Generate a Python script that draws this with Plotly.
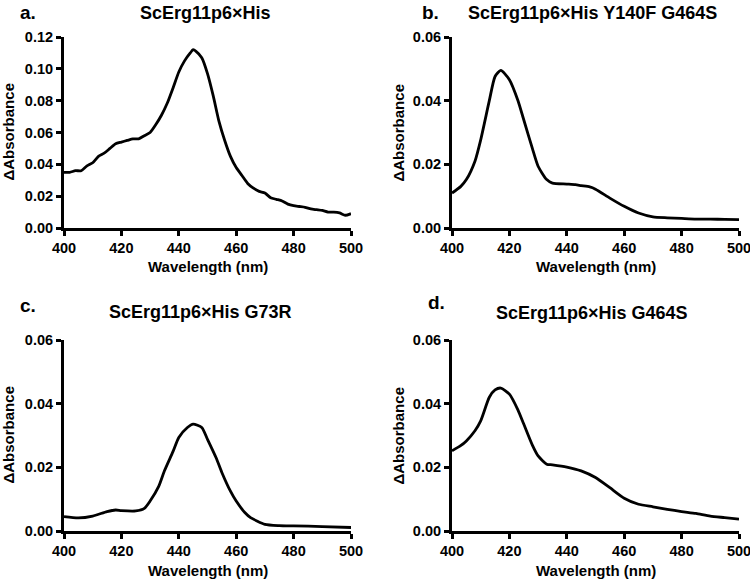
import plotly.graph_objects as go

# ---------------- data ----------------
wl_a = [400, 402, 404, 406, 408, 410, 412, 414, 416, 418, 420, 422, 424, 426, 428, 430, 432, 434, 436, 438,
        440, 442, 444, 445, 446, 448, 450, 452, 454, 456, 458, 460, 462, 464, 466, 468, 470, 472, 474, 476,
        478, 480, 482, 484, 486, 488, 490, 492, 494, 496, 498, 500]
abs_a = [0.035, 0.035, 0.036, 0.036, 0.039, 0.041, 0.045, 0.047, 0.050, 0.053, 0.054, 0.055, 0.056, 0.056, 0.058,
         0.060, 0.065, 0.071, 0.0785, 0.088, 0.098, 0.105, 0.110, 0.112, 0.111, 0.107, 0.097, 0.083, 0.067, 0.055,
         0.045, 0.038, 0.033, 0.028, 0.025, 0.023, 0.022, 0.019, 0.018, 0.017, 0.015, 0.014, 0.0135, 0.013, 0.012,
         0.0115, 0.011, 0.010, 0.010, 0.0095, 0.008, 0.009]

wl_b = [400, 403, 405, 408, 410, 413, 415, 417, 420, 423, 425, 428, 430, 433, 435, 440, 443, 445, 448, 450,
        455, 460, 465, 470, 475, 480, 485, 490, 495, 500]
abs_b = [0.011, 0.013, 0.0152, 0.021, 0.0277, 0.040, 0.0476, 0.0495, 0.0466, 0.040, 0.034, 0.025, 0.0194, 0.0152,
         0.0141, 0.0138, 0.0136, 0.0133, 0.0129, 0.0122, 0.0094, 0.0068, 0.0047, 0.0035, 0.0032, 0.0030, 0.0028,
         0.0028, 0.0027, 0.0026]

wl_c = [400, 405, 410, 415, 418, 420, 425, 428, 430, 433, 435, 438, 440, 443, 445, 448, 450, 453, 455, 458,
        460, 463, 465, 470, 475, 480, 490, 500]
abs_c = [0.0045, 0.0041, 0.0047, 0.0061, 0.0066, 0.0064, 0.0063, 0.0071, 0.0094, 0.014, 0.0189, 0.025, 0.0294,
         0.0325, 0.0336, 0.0325, 0.0288, 0.023, 0.0184, 0.0125, 0.0094, 0.0058, 0.0042, 0.0021, 0.0017, 0.0016,
         0.0014, 0.0011]

wl_d = [400, 403, 405, 408, 410, 413, 415, 417, 420, 423, 425, 428, 430, 433, 435, 440, 445, 450, 455, 460,
        465, 470, 475, 480, 485, 490, 495, 500]
abs_d = [0.0252, 0.0268, 0.0283, 0.0315, 0.0346, 0.042, 0.0443, 0.0449, 0.043, 0.038, 0.0336, 0.027, 0.0236,
         0.021, 0.0208, 0.0201, 0.0189, 0.0168, 0.0136, 0.0103, 0.0084, 0.0076, 0.0068, 0.0061, 0.0055, 0.0047,
         0.0042, 0.0037]

titles = ["ScErg11p6×His", "ScErg11p6×His Y140F G464S", "ScErg11p6×His G73R", "ScErg11p6×His G464S"]
panel_letters = ["a.", "b.", "c.", "d."]
x_ticks = [400, 420, 440, 460, 480, 500]
y_ticks_a = [0.00, 0.02, 0.04, 0.06, 0.08, 0.10, 0.12]
y_ticks_bcd = [0.00, 0.02, 0.04, 0.06]
x_label = "Wavelength (nm)"
y_label = "ΔAbsorbance"

# ---------------- layout geometry ----------------
W, H = 750, 582
FONT = "Liberation Sans, Arial, sans-serif"

def px_x(p):
    return p / W

def px_y(p):
    return 1 - p / H

# (left, right, top, bottom) in pixels for each plot area
boxes = [(64, 351, 37, 228), (452, 739, 37, 228), (64, 351, 340, 531), (452, 739, 340, 531)]
title_centers = [(205, 12.5), (592, 12.5), (200, 312), (592, 313)]
letter_pos = [(28, 12.5), (430, 12.5), (28, 305), (436, 302)]
ylabel_x = [8, 398, 8, 398]

series = [(wl_a, abs_a), (wl_b, abs_b), (wl_c, abs_c), (wl_d, abs_d)]
yticks = [y_ticks_a, y_ticks_bcd, y_ticks_bcd, y_ticks_bcd]

fig = go.Figure()
annotations = []
layout = {}

for i, ((wl, ab), (l, r, t, b)) in enumerate(zip(series, boxes)):
    n = "" if i == 0 else str(i + 1)
    fig.add_trace(go.Scatter(x=wl, y=ab, mode="lines", xaxis="x" + n, yaxis="y" + n,
                             line=dict(color="black", width=2.8, shape="spline", smoothing=0.6),
                             showlegend=False, hoverinfo="skip", cliponaxis=False))
    axis_common = dict(showgrid=False, zeroline=False, showline=True, linecolor="black", linewidth=3,
                       ticks="outside", ticklen=5, tickwidth=2.5, tickcolor="black", automargin=False,
                       ticklabeloverflow="allow",
                       tickfont=dict(family=FONT, size=14.5, color="black", weight="bold"))
    layout["xaxis" + n] = dict(axis_common, domain=[px_x(l), px_x(r)], range=[400, 500],
                               tickvals=x_ticks, anchor="y" + n)
    yt = yticks[i]
    layout["yaxis" + n] = dict(axis_common, domain=[px_y(b), px_y(t)], range=[0, yt[-1]],
                               tickvals=yt, ticktext=["%.2f" % v for v in yt], anchor="x" + n)
    cx = (l + r) / 2
    annotations.append(dict(text="<b>%s</b>" % titles[i], x=px_x(title_centers[i][0]),
                            y=px_y(title_centers[i][1]), xref="paper", borderpad=0,
                            yref="paper", showarrow=False, xanchor="center", yanchor="middle",
                            font=dict(family=FONT, size=18, color="black")))
    annotations.append(dict(text="<b>%s</b>" % panel_letters[i], x=px_x(letter_pos[i][0]),
                            y=px_y(letter_pos[i][1]), xref="paper", yref="paper", showarrow=False,
                            xanchor="center", yanchor="middle", borderpad=0,
                            font=dict(family=FONT, size=19, color="black")))
    annotations.append(dict(text="<b>%s</b>" % x_label, x=px_x(cx), y=px_y(b + 39), xref="paper",
                            yref="paper", showarrow=False, xanchor="center", yanchor="middle",
                            font=dict(family=FONT, size=15, color="black")))
    annotations.append(dict(text="<b>%s</b>" % y_label, x=px_x(ylabel_x[i]), y=px_y((t + b) / 2),
                            xref="paper", yref="paper", showarrow=False, xanchor="center", yanchor="middle",
                            textangle=-90, font=dict(family=FONT, size=15, color="black")))

fig.update_layout(width=W, height=H, margin=dict(l=0, r=0, t=0, b=0, autoexpand=False),
                  paper_bgcolor="white", plot_bgcolor="white", annotations=annotations,
                  hovermode=False, **layout)

fig.write_html("out.html", config={"displayModeBar": False},
               post_script="document.body.style.margin='0';document.body.style.overflow='hidden';")
